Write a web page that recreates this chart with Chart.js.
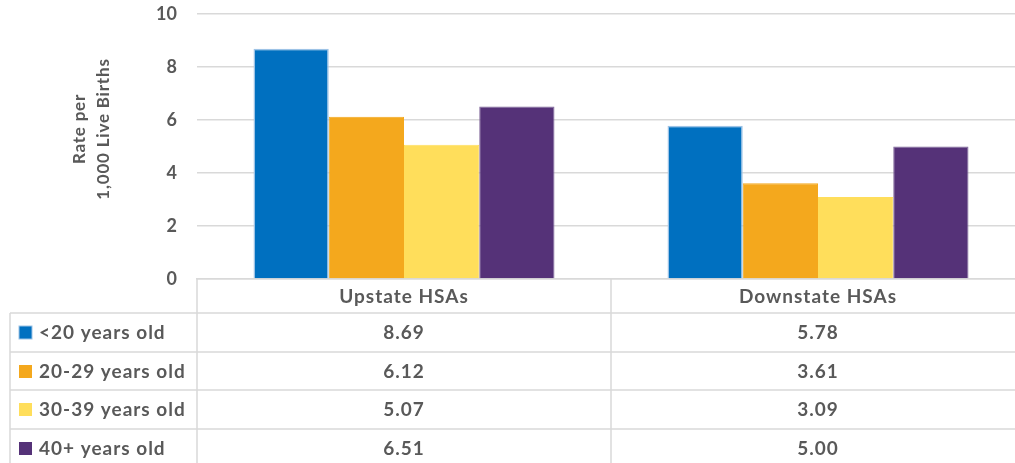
<!DOCTYPE html>
<html>
<head>
<meta charset="utf-8">
<script src="https://cdn.jsdelivr.net/npm/chart.js@4.4.1/dist/chart.umd.min.js"></script>
<style>
  html, body { margin: 0; padding: 0; background: #fff; overflow: hidden; }
  #wrap { width: 1030px; height: 463px; }
</style>
</head>
<body>
<div id="wrap"><canvas id="chart" width="1030" height="463"></canvas></div>
<script>
const categories = ['Upstate HSAs', 'Downstate HSAs'];
const seriesNames = ['<20 years old', '20-29 years old', '30-39 years old', '40+ years old'];
const under20 = [8.69, 5.78];
const age20to29 = [6.12, 3.61];
const age30to39 = [5.07, 3.09];
const age40plus = [6.51, 5.00];
const yTicks = [0, 2, 4, 6, 8, 10];
const yTitle = ['Rate per', '1,000 Live Births'];

const seriesValues = [under20, age20to29, age30to39, age40plus];
const fills = ['#0070C0', '#F4A81D', '#FFDE5B', '#553278'];
const borders = ['#9DC3E6', '#F4A81D', '#FFDE5B', '#7E6499'];
const textColor = '#595959';
const lineColor = '#D9D9D9';
const font = 'Lato, "Open Sans", sans-serif';

// table under the plot (Excel style data table)
const dataTable = {
  id: 'dataTable',
  afterDraw(chart) {
    const ctx = chart.ctx;
    const area = chart.chartArea;
    const xs = chart.scales.x;
    const mid = (xs.getPixelForValue(0) + xs.getPixelForValue(1)) / 2;
    const rowLines = [313, 352, 390, 429];
    const H = chart.height;

    ctx.save();
    ctx.strokeStyle = lineColor;
    ctx.lineWidth = 1.5;
    ctx.beginPath();
    ctx.moveTo(area.left, area.bottom); ctx.lineTo(area.left, H);
    ctx.moveTo(mid, area.bottom); ctx.lineTo(mid, H);
    ctx.moveTo(10, rowLines[0]); ctx.lineTo(10, H);
    rowLines.forEach(y => { ctx.moveTo(10, y); ctx.lineTo(chart.width, y); });
    ctx.stroke();

    ctx.fillStyle = textColor;
    ctx.font = 'bold 19px ' + font;
    ctx.letterSpacing = '1px';
    ctx.textBaseline = 'middle';
    ctx.textAlign = 'center';
    categories.forEach((c, i) => ctx.fillText(c, xs.getPixelForValue(i), 297));

    const rowMid = [333, 372, 410, 449];
    seriesNames.forEach((name, s) => {
      const y = rowMid[s];
      ctx.fillStyle = fills[s];
      ctx.fillRect(19, y - 7, 13, 13);
      if (s === 0) {
        ctx.strokeStyle = borders[0];
        ctx.lineWidth = 1;
        ctx.strokeRect(19, y - 7, 13, 13);
      }
      ctx.fillStyle = textColor;
      ctx.textAlign = 'left';
      ctx.fillText(name, 39, y);
      ctx.textAlign = 'center';
      seriesValues[s].forEach((v, i) => ctx.fillText(v.toFixed(2), xs.getPixelForValue(i), y));
    });

    // axis title
    ctx.font = 'bold 17px ' + font;
    ctx.letterSpacing = '0.8px';
    ctx.translate(92, 129);
    ctx.rotate(-Math.PI / 2);
    ctx.fillText(yTitle[0], 0, -12);
    ctx.fillText(yTitle[1], 0, 12);
    ctx.restore();
  }
};

new Chart(document.getElementById('chart'), {
  type: 'bar',
  data: {
    labels: categories,
    datasets: seriesNames.map((name, s) => ({
      label: name,
      data: seriesValues[s],
      backgroundColor: fills[s],
      borderColor: borders[s],
      borderWidth: s === 0 ? 1.5 : 1,
      barPercentage: 1,
      categoryPercentage: 0.727
    }))
  },
  options: {
    responsive: false,
    animation: false,
    devicePixelRatio: 1,
    layout: { padding: { top: 14, right: 5, left: 0, bottom: 0 } },
    plugins: {
      legend: { display: false },
      tooltip: { enabled: false }
    },
    scales: {
      x: {
        ticks: { display: false },
        grid: { display: false },
        border: { color: lineColor, width: 1.5 },
        afterFit: scale => { scale.height = 184; }
      },
      y: {
        min: 0,
        max: 10,
        afterBuildTicks: scale => { scale.ticks = yTicks.map(v => ({ value: v })); },
        ticks: { color: textColor, padding: 20, font: { family: font, size: 18, weight: 'bold' } },
        grid: { color: lineColor, lineWidth: 1.5, drawTicks: false },
        border: { display: false },
        afterFit: scale => {
          scale.width = 197;
          scale.paddingTop = 0;
          scale.paddingBottom = 0;
        }
      }
    }
  },
  plugins: [dataTable]
});
</script>
</body>
</html>
